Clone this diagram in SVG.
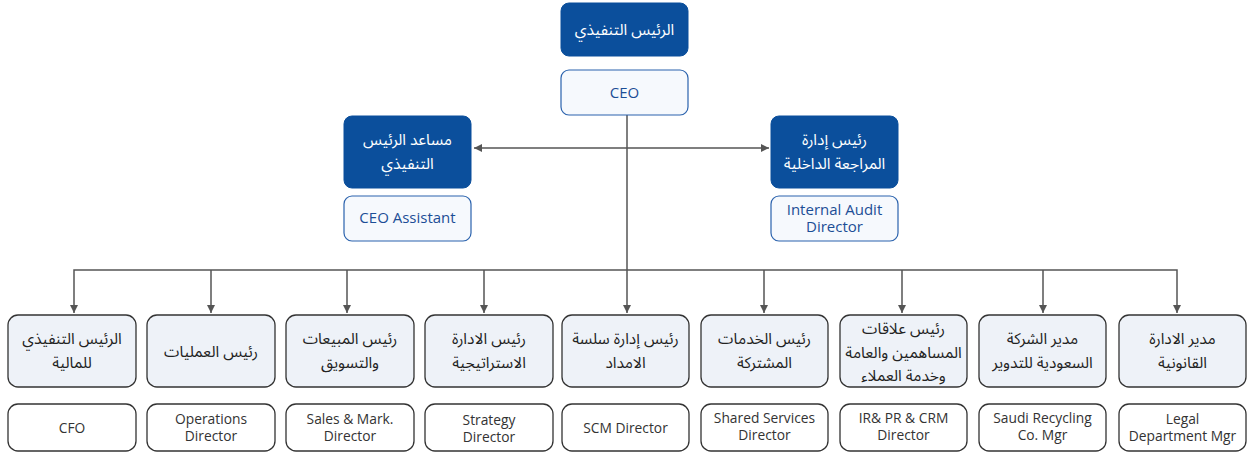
<svg xmlns="http://www.w3.org/2000/svg" width="1247" height="452" viewBox="0 0 1247 452">
<style>
.dark{fill:#0b4f9c;stroke:#0b4f9c;stroke-width:1}
.lite{fill:#f6f9fd;stroke:#2a62ad;stroke-width:1.2}
.gray{fill:#eef2f8;stroke:#333;stroke-width:1.3}
.white{fill:#fff;stroke:#333;stroke-width:1.3}
.ar{font-family:"Noto Sans Arabic","DejaVu Sans",sans-serif;font-size:15.5px;text-anchor:middle}
.arw{fill:#fff}
.ark{fill:#222}
.en{font-family:"Open Sans","Liberation Sans",sans-serif;text-anchor:middle}
.enb{fill:#1c4e96;font-size:15px}
.enk{fill:#333;font-size:13.8px}
.con{stroke:#555;stroke-width:1.5;fill:none}
</style>
<defs>
<marker id="ah" viewBox="0 0 10 10" refX="10" refY="5" markerWidth="8" markerHeight="8" orient="auto-start-reverse" markerUnits="userSpaceOnUse">
<path d="M0,0 L10,5 L0,10 z" fill="#555"/>
</marker>
</defs>
<g id="connectors">
<line class="con" x1="627" y1="115" x2="627" y2="313" marker-end="url(#ah)"/>
<line class="con" x1="474" y1="148" x2="769" y2="148" marker-start="url(#ah)" marker-end="url(#ah)"/>
<polyline class="con" points="74,313 74,270 1177,270 1177,313" marker-start="url(#ah)" marker-end="url(#ah)"/>
<line class="con" x1="211" y1="270" x2="211" y2="313" marker-end="url(#ah)"/>
<line class="con" x1="347" y1="270" x2="347" y2="313" marker-end="url(#ah)"/>
<line class="con" x1="484" y1="270" x2="484" y2="313" marker-end="url(#ah)"/>
<line class="con" x1="764" y1="270" x2="764" y2="313" marker-end="url(#ah)"/>
<line class="con" x1="902" y1="270" x2="902" y2="313" marker-end="url(#ah)"/>
<line class="con" x1="1043" y1="270" x2="1043" y2="313" marker-end="url(#ah)"/>
</g>
<g id="ceo">
<rect class="dark" x="561" y="3" width="127" height="53" rx="8"/>
<text class="ar arw" x="624.5" y="35">الرئيس التنفيذي</text>
<rect class="lite" x="561" y="70" width="127" height="45" rx="8"/>
<text class="en enb" x="624.5" y="98">CEO</text>
</g>
<g id="assistant">
<rect class="dark" x="344" y="116" width="127" height="72" rx="8"/>
<text class="ar arw" x="407.5" y="145">مساعد الرئيس</text>
<text class="ar arw" x="407.5" y="169">التنفيذي</text>
<rect class="lite" x="344" y="196" width="127" height="45" rx="8"/>
<text class="en enb" x="407.5" y="223">CEO Assistant</text>
</g>
<g id="audit">
<rect class="dark" x="771" y="116" width="127" height="72" rx="8"/>
<text class="ar arw" x="834.5" y="145">رئيس إدارة</text>
<text class="ar arw" x="834.5" y="169">المراجعة الداخلية</text>
<rect class="lite" x="771" y="196" width="127" height="45" rx="8"/>
<text class="en enb" x="834.5" y="215">Internal Audit</text>
<text class="en enb" x="834.5" y="232">Director</text>
</g>
<g id="cfo">
<rect class="gray" x="8" y="315" width="128" height="72" rx="10"/>
<text class="ar ark" x="72" y="344">الرئيس التنفيذي</text>
<text class="ar ark" x="72" y="368">للمالية</text>
<rect class="white" x="8" y="404" width="128" height="47" rx="10"/>
<text class="en enk" x="72" y="433">CFO</text>
</g>
<g id="operations">
<rect class="gray" x="147" y="315" width="128" height="72" rx="10"/>
<text class="ar ark" x="211" y="357">رئيس العمليات</text>
<rect class="white" x="147" y="404" width="128" height="47" rx="10"/>
<text class="en enk" x="211" y="424">Operations</text>
<text class="en enk" x="211" y="441">Director</text>
</g>
<g id="sales">
<rect class="gray" x="286" y="315" width="128" height="72" rx="10"/>
<text class="ar ark" x="350" y="344">رئيس المبيعات</text>
<text class="ar ark" x="350" y="368">والتسويق</text>
<rect class="white" x="286" y="404" width="128" height="47" rx="10"/>
<text class="en enk" x="350" y="424">Sales &amp; Mark.</text>
<text class="en enk" x="350" y="441">Director</text>
</g>
<g id="strategy">
<rect class="gray" x="425" y="315" width="128" height="72" rx="10"/>
<text class="ar ark" x="489" y="344">رئيس الادارة</text>
<text class="ar ark" x="489" y="368">الاستراتيجية</text>
<rect class="white" x="425" y="404" width="128" height="47" rx="10"/>
<text class="en enk" x="489" y="425">Strategy</text>
<text class="en enk" x="489" y="442">Director</text>
</g>
<g id="scm">
<rect class="gray" x="562" y="315" width="127" height="72" rx="10"/>
<text class="ar ark" x="625.5" y="344">رئيس إدارة سلسة</text>
<text class="ar ark" x="625.5" y="368">الامداد</text>
<rect class="white" x="562" y="404" width="127" height="47" rx="10"/>
<text class="en enk" x="625.5" y="433">SCM Director</text>
</g>
<g id="shared">
<rect class="gray" x="701" y="315" width="127" height="72" rx="10"/>
<text class="ar ark" x="764.5" y="344">رئيس الخدمات</text>
<text class="ar ark" x="764.5" y="368">المشتركة</text>
<rect class="white" x="701" y="404" width="127" height="47" rx="10"/>
<text class="en enk" x="764.5" y="423">Shared Services</text>
<text class="en enk" x="764.5" y="440">Director</text>
</g>
<g id="irpr">
<rect class="gray" x="840" y="315" width="127" height="72" rx="10"/>
<text class="ar ark" x="903.5" y="334">رئيس علاقات</text>
<text class="ar ark" x="903.5" y="358">المساهمين والعامة</text>
<text class="ar ark" x="903.5" y="381">وخدمة العملاء</text>
<rect class="white" x="840" y="404" width="127" height="47" rx="10"/>
<text class="en enk" x="903.5" y="423">IR&amp; PR &amp; CRM</text>
<text class="en enk" x="903.5" y="440">Director</text>
</g>
<g id="recycling">
<rect class="gray" x="979" y="315" width="127" height="72" rx="10"/>
<text class="ar ark" x="1042.5" y="344">مدير الشركة</text>
<text class="ar ark" x="1042.5" y="368">السعودية للتدوير</text>
<rect class="white" x="979" y="404" width="127" height="47" rx="10"/>
<text class="en enk" x="1042.5" y="423">Saudi Recycling</text>
<text class="en enk" x="1042.5" y="440">Co. Mgr</text>
</g>
<g id="legal">
<rect class="gray" x="1119" y="315" width="127" height="72" rx="10"/>
<text class="ar ark" x="1182.5" y="344">مدير الادارة</text>
<text class="ar ark" x="1182.5" y="368">القانونية</text>
<rect class="white" x="1119" y="404" width="127" height="47" rx="10"/>
<text class="en enk" x="1182.5" y="424">Legal</text>
<text class="en enk" x="1182.5" y="441">Department Mgr</text>
</g>
</svg>
